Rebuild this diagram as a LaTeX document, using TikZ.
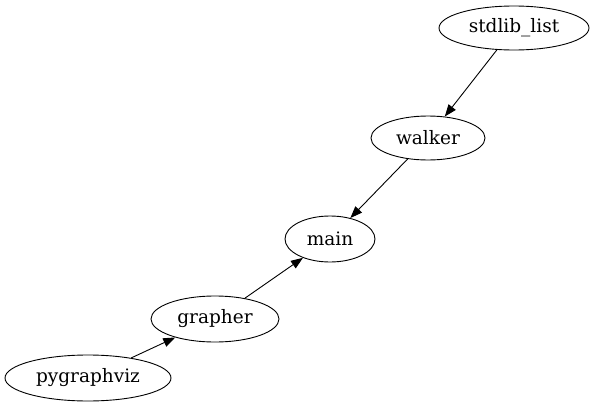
\documentclass[tikz,border=0pt]{standalone}
\usepackage{fontspec}
\setmainfont{DejaVu Serif}
\usetikzlibrary{shapes.geometric,arrows.meta}
\begin{document}
\begin{tikzpicture}[x=1pt,y=-1pt,
  nd/.style={draw,ellipse,inner sep=0pt,minimum height=44pt,font=\fontsize{18.5pt}{21pt}\selectfont,line width=0.9pt},
  edge/.style={draw,line width=0.9pt,-{Triangle[length=12pt,width=9pt]}}]
\useasboundingbox (0,0) rectangle (595,407);
\node[nd,minimum width=150pt] (stdlib) at (514,28) {stdlib\_list};
\node[nd,minimum width=114pt] (walker) at (428,138) {walker};
\node[nd,minimum width=90pt,minimum height=46pt] (main) at (330,239) {main};
\node[nd,minimum width=128pt,minimum height=46pt] (grapher) at (215,319) {grapher};
\node[nd,minimum width=166pt,minimum height=46pt] (pyg) at (88,378) {pygraphviz};
\draw[edge] (stdlib) -- (walker);
\draw[edge] (walker) -- (main);
\draw[edge] (grapher) -- (main);
\draw[edge] (pyg) -- (grapher);
\end{tikzpicture}
\end{document}
